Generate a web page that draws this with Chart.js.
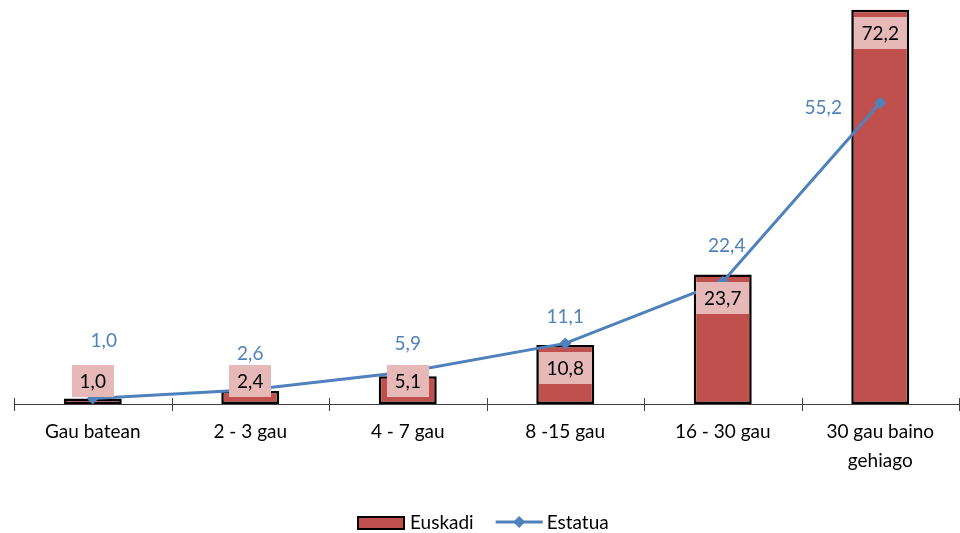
<!DOCTYPE html>
<html>
<head>
<meta charset="utf-8">
<style>
  html, body { margin: 0; padding: 0; background: #ffffff; }
  #wrap { width: 960px; height: 533px; position: relative; }
</style>
<script src="https://cdn.jsdelivr.net/npm/chart.js@4.4.1/dist/chart.umd.min.js"></script>
</head>
<body>
<div id="wrap"><canvas id="c" width="960" height="533"></canvas></div>
<script>
// ---- data ----
const categories = ['Gau batean', '2 - 3 gau', '4 - 7 gau', '8 -15 gau', '16 - 30 gau', ['30 gau baino', 'gehiago']];
const euskadi = [1.0, 2.4, 5.1, 10.8, 23.7, 72.2];
const estatua = [1.0, 2.6, 5.9, 11.1, 22.4, 55.2];
const seriesNames = ['Euskadi', 'Estatua'];

// ---- styles ----
const RED = '#C0504D';
const BLUE = '#4F81BD';
const PINK = '#E6B9B8';
const FONT = 'Lato, Carlito, Calibri, "Open Sans", sans-serif';
const FS = 19;
// manual label offsets (px) for the line labels, as positioned in the reference
const lineLabelOffsets = [[11, -58], [0, -36], [0, -28], [0, -27], [4, -36], [-57, 5]];

const fmt = v => v.toFixed(1).replace('.', ',');

const axisPlugin = {
  id: 'axisPlugin',
  afterDatasetsDraw(chart) {
    const ctx = chart.ctx;
    const xs = chart.scales.x;
    const ys = chart.scales.y;
    const y0 = ys.getPixelForValue(0);
    ctx.save();
    ctx.strokeStyle = '#404040';
    ctx.lineWidth = 1;
    ctx.beginPath();
    ctx.moveTo(xs.left, y0 + 0.5);
    ctx.lineTo(xs.right, y0 + 0.5);
    const n = categories.length;
    const step = (xs.right - xs.left) / n;
    for (let i = 0; i <= n; i++) {
      const x = Math.round(xs.left + i * step) + 0.5;
      ctx.moveTo(x, y0 - 6);
      ctx.lineTo(x, y0 + 7);
    }
    ctx.stroke();
    ctx.restore();
  },
  afterDraw(chart) {
    const ctx = chart.ctx;
    const ys = chart.scales.y;
    ctx.save();
    ctx.font = FS + 'px ' + FONT;
    ctx.textAlign = 'center';
    ctx.textBaseline = 'middle';
    // bar labels (pink boxes)
    const barMeta = chart.getDatasetMeta(1);
    const y0 = ys.getPixelForValue(0);
    barMeta.data.forEach((bar, i) => {
      const txt = fmt(euskadi[i]);
      const tw = ctx.measureText(txt).width;
      const w = tw + 16, h = 32;
      let top = bar.y + 7;
      if (top > y0 - 39) top = y0 - 39;
      ctx.fillStyle = PINK;
      ctx.fillRect(Math.round(bar.x - w / 2), Math.round(top), Math.round(w), h);
      ctx.fillStyle = '#000000';
      ctx.fillText(txt, bar.x, top + h / 2 + 1);
    });
    // line labels
    const lineMeta = chart.getDatasetMeta(0);
    ctx.fillStyle = BLUE;
    lineMeta.data.forEach((pt, i) => {
      const o = lineLabelOffsets[i];
      ctx.fillText(fmt(estatua[i]), pt.x + o[0], pt.y + o[1]);
    });
    // legend
    ctx.textAlign = 'left';
    const ly = 523;
    const w1 = ctx.measureText(seriesNames[0]).width;
    const w2 = ctx.measureText(seriesNames[1]).width;
    const total = 46 + 6 + w1 + 22 + 47 + 4 + w2;
    let x = Math.round((chart.width - total) / 2) + 3;
    ctx.fillStyle = RED;
    ctx.fillRect(x, ly - 6, 46, 12);
    ctx.strokeStyle = '#000000';
    ctx.lineWidth = 2;
    ctx.strokeRect(x, ly - 6, 46, 12);
    x += 46 + 6;
    ctx.fillStyle = '#000000';
    ctx.fillText(seriesNames[0], x, ly);
    x += w1 + 22;
    ctx.strokeStyle = BLUE;
    ctx.lineWidth = 3;
    ctx.beginPath();
    ctx.moveTo(x, ly - 1);
    ctx.lineTo(x + 47, ly - 1);
    ctx.stroke();
    ctx.fillStyle = BLUE;
    const cx = x + 23.5, cy = ly - 1, r = 6;
    ctx.beginPath();
    ctx.moveTo(cx, cy - r); ctx.lineTo(cx + r, cy); ctx.lineTo(cx, cy + r); ctx.lineTo(cx - r, cy);
    ctx.closePath();
    ctx.fill();
    x += 47 + 4;
    ctx.fillStyle = '#000000';
    ctx.fillText(seriesNames[1], x, ly);
    ctx.restore();
  }
};

new Chart(document.getElementById('c'), {
  data: {
    labels: categories,
    datasets: [
      {
        type: 'line',
        label: seriesNames[1],
        data: estatua,
        borderColor: BLUE,
        backgroundColor: BLUE,
        borderWidth: 3,
        pointStyle: 'rectRot',
        pointRadius: 6,
        pointHoverRadius: 6,
        pointBackgroundColor: BLUE,
        pointBorderWidth: 0,
        tension: 0,
        clip: false,
        order: 1
      },
      {
        type: 'bar',
        label: seriesNames[0],
        data: euskadi,
        backgroundColor: RED,
        borderColor: '#000000',
        borderWidth: 2.5,
        borderSkipped: false,
        categoryPercentage: 1,
        barPercentage: 0.368,
        clip: false,
        order: 2
      }
    ]
  },
  options: {
    responsive: false,
    animation: false,
    layout: { autoPadding: false, padding: { left: 14, right: 1, top: 0, bottom: 0 } },
    plugins: { legend: { display: false }, tooltip: { enabled: false } },
    scales: {
      x: {
        type: 'category',
        offset: true,
        grid: { display: false, drawTicks: false },
        border: { display: false },
        ticks: {
          color: '#000000',
          font: { family: FONT, size: FS, lineHeight: 1.5 },
          padding: 14,
          maxRotation: 0,
          autoSkip: false
        },
        afterFit(s) { s.height = 129; }
      },
      y: {
        display: false,
        min: 0,
        max: 74
      }
    }
  },
  plugins: [axisPlugin]
});
</script>
</body>
</html>
